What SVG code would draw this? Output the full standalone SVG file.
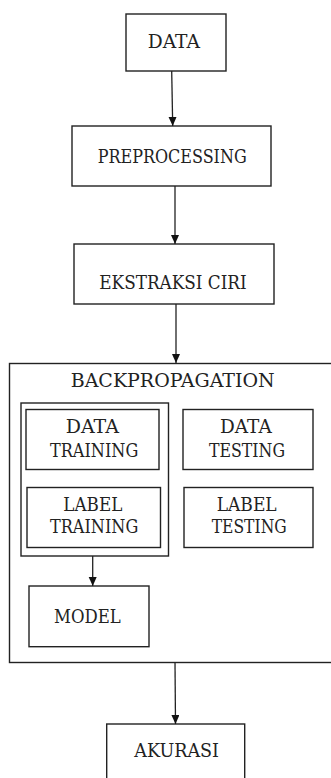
<svg xmlns="http://www.w3.org/2000/svg" width="331" height="778" viewBox="0 0 331 778">
<defs>
<marker id="ah" markerUnits="userSpaceOnUse" markerWidth="10" markerHeight="10" refX="9" refY="4" orient="auto">
<path d="M0,0 L9,4 L0,8 z" fill="#111"/>
</marker>
<style>
.b{fill:#fff;stroke:#222;stroke-width:1.4}
.c{stroke:#222;stroke-width:1.3;fill:none;marker-end:url(#ah)}
</style>
</defs>
<rect width="331" height="778" fill="#fff"/>
<g font-family="DejaVu Serif, serif" font-size="19" fill="#222">
<g id="backpropagation">
<rect class="b" x="9.5" y="363.5" width="340" height="299"/>
<text x="70.7" y="387.3" textLength="204" lengthAdjust="spacingAndGlyphs">BACKPROPAGATION</text>
</g>
<g id="training-group">
<rect class="b" x="21" y="403" width="147.5" height="153"/>
</g>
<g id="data">
<rect class="b" x="126" y="14" width="100" height="57"/>
<text x="147.7" y="47.7" textLength="52.3" lengthAdjust="spacingAndGlyphs">DATA</text>
</g>
<g id="preprocessing">
<rect class="b" x="72" y="126" width="199" height="60"/>
<text x="97.7" y="163.3" textLength="149" lengthAdjust="spacingAndGlyphs">PREPROCESSING</text>
</g>
<g id="ekstraksi">
<rect class="b" x="74" y="244" width="200" height="60"/>
<text x="99.3" y="289.3" textLength="147.3" lengthAdjust="spacingAndGlyphs">EKSTRAKSI CIRI</text>
</g>
<g id="data-training">
<rect class="b" x="26" y="409.5" width="133" height="60"/>
<text x="65.7" y="432.7" textLength="53.3" lengthAdjust="spacingAndGlyphs">DATA</text>
<text x="50" y="456.7" textLength="88.3" lengthAdjust="spacingAndGlyphs">TRAINING</text>
</g>
<g id="label-training">
<rect class="b" x="27" y="487.5" width="133.5" height="60"/>
<text x="63.3" y="511" textLength="59" lengthAdjust="spacingAndGlyphs">LABEL</text>
<text x="50" y="533.3" textLength="88.3" lengthAdjust="spacingAndGlyphs">TRAINING</text>
</g>
<g id="data-testing">
<rect class="b" x="183" y="409.5" width="130" height="60"/>
<text x="220" y="432.7" textLength="51.7" lengthAdjust="spacingAndGlyphs">DATA</text>
<text x="209" y="456.7" textLength="76" lengthAdjust="spacingAndGlyphs">TESTING</text>
</g>
<g id="label-testing">
<rect class="b" x="184" y="487.5" width="129" height="60"/>
<text x="216.7" y="511" textLength="60" lengthAdjust="spacingAndGlyphs">LABEL</text>
<text x="211.7" y="533.3" textLength="75" lengthAdjust="spacingAndGlyphs">TESTING</text>
</g>
<g id="model">
<rect class="b" x="29" y="586" width="120" height="60.7"/>
<text x="54" y="623.3" textLength="66.7" lengthAdjust="spacingAndGlyphs">MODEL</text>
</g>
<g id="akurasi">
<rect class="b" x="106.7" y="724" width="138" height="70"/>
<text x="134.3" y="756.7" textLength="84.7" lengthAdjust="spacingAndGlyphs">AKURASI</text>
</g>
</g>
<g id="connectors">
<line class="c" x1="171.7" y1="71" x2="172.7" y2="126"/>
<line class="c" x1="175" y1="186" x2="175" y2="244"/>
<line class="c" x1="176" y1="304" x2="176" y2="363"/>
<line class="c" x1="92.7" y1="556" x2="92.7" y2="586"/>
<line class="c" x1="175" y1="662.7" x2="175.5" y2="724"/>
</g>
</svg>
